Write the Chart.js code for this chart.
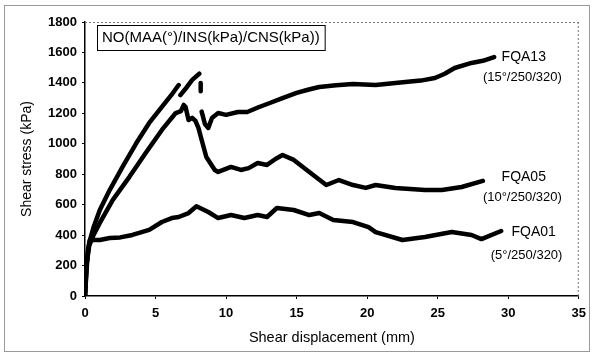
<!DOCTYPE html>
<html>
<head>
<meta charset="utf-8">
<script src="https://cdn.jsdelivr.net/npm/chart.js@4.4.1/dist/chart.umd.min.js"></script>
<style>
html,body{margin:0;padding:0;background:#fff;}
#wrap{position:relative;width:593px;height:353px;}
</style>
</head>
<body>
<div id="wrap"><canvas id="c" width="593" height="353"></canvas></div>
<script>
// Shear displacement (mm) / shear stress (kPa); null = gap in trace
const fqa13X = [0, 0.1, 0.3, 0.6, 1.05, 1.75, 2.66, 3.64, 4.55, 5.45, 6.2, 6.64, 6.7, 6.76, 7.2, 7.6, 8.1, 8.15, 8.2, 8.2, 8.25, 8.27, 8.5, 8.74, 9.0, 9.44, 10.0, 10.84, 11.5, 12.3, 13.1, 14.0, 15.0, 15.8, 16.6, 17.8, 19.0, 20.6, 21.3, 22.7, 23.8, 24.8, 25.5, 26.2, 27.4, 28.2, 29.0];
const fqa13Y = [0, 200, 350, 450, 565, 696, 848, 1005, 1137, 1242, 1330, 1386, null, 1320, 1370, 1420, 1460, null, 1400, 1345, null, 1211, 1130, 1104, 1170, 1202, 1190, 1209, 1209, 1240, 1268, 1300, 1334, 1355, 1373, 1385, 1393, 1386, 1393, 1406, 1415, 1432, 1460, 1498, 1531, 1545, 1570];

const fqa05X = [0, 0.1, 0.3, 0.6, 1.05, 1.96, 3.15, 4.3, 5.45, 6.43, 6.8, 7.0, 7.13, 7.34, 7.6, 7.83, 8.04, 8.27, 8.6, 9.2, 9.44, 10.35, 11.05, 11.6, 12.24, 12.9, 13.5, 14.0, 14.8, 15.9, 17.1, 18.0, 19.0, 19.9, 20.6, 22.0, 24.1, 25.3, 26.7, 28.2];
const fqa05Y = [0, 200, 330, 400, 480, 630, 783, 940, 1091, 1202, 1215, 1255, 1242, 1156, 1170, 1150, 1104, 1025, 913, 828, 815, 848, 828, 840, 874, 861, 900, 926, 894, 815, 729, 762, 729, 710, 729, 710, 696, 696, 716, 756];

const fqa01X = [0, 0.1, 0.2, 0.35, 1.05, 1.75, 2.5, 3.36, 4.55, 5.45, 6.15, 6.64, 7.34, 7.9, 8.74, 9.44, 10.35, 11.3, 12.24, 12.9, 13.6, 14.8, 15.9, 16.6, 17.6, 19.0, 20.1, 20.6, 22.5, 24.1, 26.0, 27.4, 28.1, 29.5];
const fqa01Y = [0, 150, 300, 368, 368, 381, 385, 401, 434, 486, 512, 519, 545, 590, 552, 512, 532, 512, 532, 519, 578, 565, 532, 545, 499, 486, 453, 420, 368, 388, 420, 401, 374, 427];

const seriesNames = ["FQA13", "FQA05", "FQA01"];
const seriesConds = ["(15°/250/320)", "(10°/250/320)", "(5°/250/320)"];
// label anchor positions in data units (mm, kPa)
const labelX = [31.1, 31.1, 31.8];
const labelY = [1570, 782, 420];
const condX = [31.0, 31.0, 31.3];
const condY = [1439, 650, 269];
const legendText = "NO(MAA(°)/INS(kPa)/CNS(kPa))";

const xTicks = [0, 5, 10, 15, 20, 25, 30, 35];
const yTicks = [0, 200, 400, 600, 800, 1000, 1200, 1400, 1600, 1800];

function pts(xs, ys){ return xs.map((x,i)=>({x:x, y:ys[i]})); }

const FONT = "'Liberation Sans', Arial, sans-serif";

const decor = {
  id:'decor',
  beforeDraw(chart){
    const ctx = chart.ctx;
    ctx.save();
    ctx.strokeStyle = '#9a9a9a';
    ctx.lineWidth = 1;
    ctx.strokeRect(4.5, 5.5, 585, 346);
    ctx.restore();
  },
  afterDraw(chart){
    const ctx = chart.ctx, a = chart.chartArea;
    const xs = chart.scales.x, ys = chart.scales.y;
    ctx.save();
    // dashed top and right frame
    ctx.strokeStyle = '#777';
    ctx.lineWidth = 1;
    ctx.setLineDash([2,2]);
    ctx.beginPath();
    ctx.moveTo(a.left, a.top + 0.5); ctx.lineTo(a.right, a.top + 0.5);
    ctx.moveTo(a.right - 0.5, a.top); ctx.lineTo(a.right - 0.5, a.bottom);
    ctx.stroke();
    ctx.setLineDash([]);
    // legend box
    ctx.font = '15px ' + FONT;
    const w = ctx.measureText(legendText).width;
    const bx = a.left + 12, by = a.top + 3;
    ctx.fillStyle = '#fff';
    ctx.fillRect(bx, by, w + 10, 25);
    ctx.strokeStyle = '#000';
    ctx.lineWidth = 1;
    ctx.strokeRect(bx + 0.5, by + 0.5, w + 10, 25);
    ctx.fillStyle = '#000';
    ctx.textBaseline = 'middle';
    ctx.textAlign = 'left';
    ctx.fillText(legendText, bx + 5, by + 13);
    // series labels
    ctx.textAlign = 'center';
    for (let i = 0; i < seriesNames.length; i++) {
      ctx.font = '14px ' + FONT;
      ctx.fillText(seriesNames[i], xs.getPixelForValue(labelX[i]), ys.getPixelForValue(labelY[i]));
      ctx.font = '13px ' + FONT;
      ctx.fillText(seriesConds[i], xs.getPixelForValue(condX[i]), ys.getPixelForValue(condY[i]));
    }
    ctx.restore();
  }
};

const mkDs = (xs, ys, name) => ({
  label: name,
  data: pts(xs, ys),
  showLine: true,
  spanGaps: false,
  borderColor: '#000',
  backgroundColor: '#000',
  borderWidth: 4.5,
  pointRadius: 0,
  tension: 0,
  borderJoinStyle: 'round',
  borderCapStyle: 'round'
});

new Chart(document.getElementById('c'), {
  type: 'scatter',
  data: {
    datasets: [
      mkDs(fqa13X, fqa13Y, seriesNames[0]),
      mkDs(fqa05X, fqa05Y, seriesNames[1]),
      mkDs(fqa01X, fqa01Y, seriesNames[2])
    ]
  },
  options: {
    responsive: false,
    animation: false,
    devicePixelRatio: 1,
    layout: { padding: { left: 0, right: 7, top: 22, bottom: 0 } },
    plugins: { legend: { display: false }, tooltip: { enabled: false } },
    scales: {
      x: {
        type: 'linear', min: 0, max: 35,
        afterBuildTicks: s => { s.ticks = xTicks.map(v => ({value: v})); },
        afterFit: s => { s.height = 57; },
        border: { display: true, color: '#000', width: 1.5 },
        grid: { display: true, drawOnChartArea: false, drawTicks: true, tickLength: 3, color: '#000' },
        ticks: { color: '#000', padding: 7, maxRotation: 0, callback: v => String(v), font: { family: FONT, size: 13, weight: 'bold' } },
        title: { display: true, text: 'Shear displacement (mm)', color: '#000', font: { family: FONT, size: 14.5 }, padding: { top: 0, bottom: 6 } }
      },
      y: {
        type: 'linear', min: 0, max: 1800,
        afterBuildTicks: s => { s.ticks = yTicks.map(v => ({value: v})); },
        afterFit: s => { s.width = 85; },
        border: { display: true, color: '#000', width: 1.5 },
        grid: { display: true, drawOnChartArea: false, drawTicks: true, tickLength: 3, color: '#000' },
        ticks: { color: '#000', padding: 5, callback: v => String(v), font: { family: FONT, size: 13, weight: 'bold' } },
        title: { display: true, text: 'Shear stress (kPa)', color: '#000', font: { family: FONT, size: 14 }, padding: { top: 19, bottom: 0 } }
      }
    }
  },
  plugins: [decor]
});
</script>
</body>
</html>
